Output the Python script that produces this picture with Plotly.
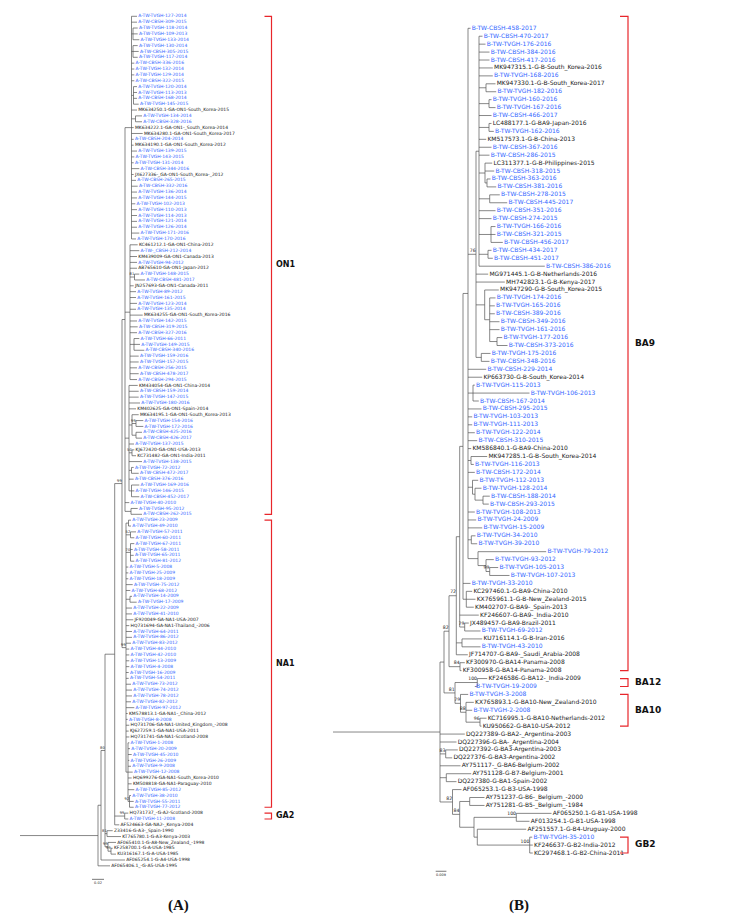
import plotly.graph_objects as go

# ------------------------------------------------------------------
# DATA  (Newick-like strings; number after ':' = node depth on the
#        distance axis, label after ')' = bootstrap)
# ------------------------------------------------------------------

# ---------------- Panel A : RSV-A G gene -------------------------
ON1_C1 = ("(A-TW-TVGH-127-2014:129,A-TW-CBSH-309-2015:129,"
          "(A-TW-TVGH-118-2014:129.7,A-TW-TVGH-109-2013:129.7,A-TW-TVGH-133-2014:131.3):125,"
          "(A-TW-TVGH-130-2014:129.7,A-TW-CBSH-305-2015:130.7,A-TW-TVGH-117-2014:129.7):125,"
          "A-TW-CBSH-336-2016:126.3,A-TW-TVGH-132-2014:126.3,A-TW-TVGH-129-2014:126.3,A-TW-CBSH-322-2015:126.3,"
          "(A-TW-TVGH-120-2014:129,A-TW-TVGH-113-2013:129,A-TW-CBSH-168-2014:129,A-TW-TVGH-145-2015:130.7):125.5,"
          "MK634250.1-GA-ON1-South_Korea-2015:129,"
          "(A-TW-TVGH-134-2014:134,A-TW-CBSH-328-2016:134):127.5,"
          "MK634222.1-GA-ON1-_South_Korea-2014:125.7,MK634280.1-GA-ON1-South_Korea-2017:134.7,"
          "A-TW-CBSH-204-2014:125.7,MK634190.1-GA-ON1-South_Korea-2012:125.7,A-TW-TVGH-139-2015:129,"
          "A-TW-TVGH-143-2015:126.3,A-TW-TVGH-131-2014:125.7,A-TW-CBSH-344-2016:131.3,"
          "JX627336-_GA-ON1-South_Korea-_2012:125.7,A-TW-CBSH-265-2015:128,A-TW-CBSH-332-2016:129.7,"
          "A-TW-TVGH-136-2014:129,A-TW-TVGH-144-2015:129,A-TW-TVGH-102-2013:127.3,A-TW-TVGH-110-2013:129,"
          "A-TW-TVGH-114-2013:129,A-TW-TVGH-121-2014:129,A-TW-TVGH-126-2014:129,A-TW-TVGH-171-2016:131.3,"
          "A-TW-TVGH-170-2016:128):123.5")

ON1_C2 = ("(KC461212.1-GA-ON1-China-2012:129.7,A-TW-_CBSH-212-2014:131.3,KM439009-GA-ON1-Canada-2013:129,"
          "A-TW-TVGH-94-2012:129,AB765610-GA-ON1-Japan-2012:129,"
          "(A-TW-TVGH-148-2015:131.3,A-TW-CBSH-481-2017:137)81:126.5,"
          "JN257693-GA-ON1-Canada-2011:125.7,A-TW-TVGH-89-2012:128,A-TW-TVGH-161-2015:128,"
          "A-TW-TVGH-123-2014:129,A-TW-TVGH-135-2014:128,MK634255-GA-ON1-South_Korea-2016:134.7,"
          "A-TW-TVGH-142-2015:129,A-TW-CBSH-319-2015:129.7,A-TW-CBSH-327-2016:129,"
          "(A-TW-TVGH-66-2011:131.3,A-TW-TVGH-149-2015:132,A-TW-CBSH-340-2016:136.3):126,"
          "A-TW-TVGH-159-2016:130.7,A-TW-TVGH-157-2015:130.7,A-TW-CBSH-256-2015:129,"
          "A-TW-CBSH-478-2017:130.7,A-TW-CBSH-294-2015:129):122")

ON1_C3 = ("(KM434054-GA-ON1-China-2014:129.7,A-TW-CBSH-159-2014:130.7,A-TW-TVGH-147-2015:130.7,"
          "A-TW-TVGH-180-2016:132,KM402625-GA-ON1-Spain-2014:128,"
          "(MK634195.1-GA-ON1-South_Korea-2013:130.7,"
          "(A-TW-TVGH-154-2016:135.3,A-TW-TVGH-172-2016:135.3)99:128,"
          "(A-TW-CBSH-425-2016:134,A-TW-CBSH-426-2017:134):128):124,"
          "A-TW-TVGH-137-2015:126,"
          "(KJ672420-GA-ON1-USA-2013:126.3,KC731482-GA-ON1-India-2011:128)50:124,"
          "A-TW-TVGH-138-2015:134,"
          "(A-TW-TVGH-72-2012:125.7,A-TW-CBSH-472-2017:130.7):123.5,"
          "A-TW-CBSH-376-2016:125.7,"
          "(A-TW-TVGH-169-2016:131.3,A-TW-TVGH-146-2015:126.3,A-TW-CBSH-452-2017:131.3):123.5):121")

ON1 = ("(" + ON1_C1 + "," + ON1_C2 + "," + ON1_C3 + ","
       "A-TW-TVGH-40-2010:121.3,(A-TW-TVGH-95-2012:129.7,A-TW-CBSH-262-2015:134):123):117")

NA1_B = ("(A-TW-TVGH-1-2008:121.3,A-TW-TVGH-20-2009:122,A-TW-TVGH-45-2010:123.7,A-TW-TVGH-26-2009:121.3,"
         "A-TW-TVGH-9-2008:123,A-TW-TVGH-12-2008:124.7,HQ699276-GA-NA1-South_Korea-2010:123.7,"
         "KM508818-GA-NA1-Paraguay-2010:123.7,A-TW-TVGH-85-2012:126.3,"
         "(A-TW-TVGH-38-2010:123,A-TW-TVGH-55-2011:125.7,A-TW-TVGH-77-2012:125.7)92:121.5):120")

NA1 = ("((A-TW-TVGH-23-2009:123,A-TW-TVGH-49-2010:123):120.5,"
       "(A-TW-TVGH-57-2011:128,A-TW-TVGH-60-2011:126.3)52:122.5,"
       "(A-TW-TVGH-67-2011:126.3,A-TW-TVGH-58-2011:124.7,A-TW-TVGH-65-2011:125.7,A-TW-TVGH-81-2012:126.3)70:122.5,"
       "A-TW-TVGH-5-2008:120.3,A-TW-TVGH-25-2009:120.3,A-TW-TVGH-18-2009:120.3,A-TW-TVGH-75-2012:124.7,"
       "A-TW-TVGH-68-2012:122.3,(A-TW-TVGH-14-2009:124,A-TW-TVGH-17-2009:128.7):122,"
       "A-TW-TVGH-22-2009:124,A-TW-TVGH-41-2010:124,JF920049-GA-NA1-USA-2007:125.3,"
       "HQ731694-GA-NA1-Thailand_-2006:121.3,A-TW-TVGH-64-2011:124,A-TW-TVGH-86-2012:124,"
       "A-TW-TVGH-83-2012:123,A-TW-TVGH-44-2010:121.3,A-TW-TVGH-42-2010:121.3,A-TW-TVGH-13-2009:121.3,"
       "A-TW-TVGH-4-2008:121.3,A-TW-TVGH-16-2009:120.7,A-TW-TVGH-54-2011:120.7,A-TW-TVGH-73-2012:123,"
       "A-TW-TVGH-74-2012:124,A-TW-TVGH-78-2012:124,A-TW-TVGH-82-2012:123,A-TW-TVGH-97-2012:126.3,"
       "KM578813.1-GA-NA1-_China-2012:119.7,A-TW-TVGH-8-2008:119.7,"
       "HQ731706-GA-NA1-United_Kingdom_-2008:121.3,KJ627259.1-GA-NA1-USA-2011:120.7,"
       "HQ731741-GA-NA1-Scotland-2008:121.3," + NA1_B + ")99:118")

GA2 = "(HQ731737_-G-A2-Scotland-2008:120.3,A-TW-TVGH-11-2008:120.3)99:116.7"

TREE_A = ("(((((" + ON1 + "," + NA1 + ")99:114," + GA2 + ",AF524663-GA-NA2-_Kenya-2004:111.3):106.7,"
          "(Z33416-G-A3-_Spain-1990:104.7,KT765780.1-G-A3-Kenya-2003:113)81:99,"
          "(AF065410.1-G-A8-New_Zealand_-1998:108,"
          "(KF258700.1-G-A-USA-1985:104.7,KU316167.1-G-A-USA-1985:108)99:103)99:100)80:97,"
          "AF065254.1-G-A4-USA-1998:117):93,"
          "AF065406.1_-G-A5-USA-1995:102):90,"
          "AF065257-G-A1-USA-1998:169.7):89")
ROOT_STEM_A = 12

CLADE_NAMES_A = ["ON1", "NA1", "GA2"]
CLADE_FIRST_A = [0, 86, 136]      # bracket extents, in leaf rows
CLADE_LAST_A = [85, 135, 137]

SCALE_LABEL_A = "0.02"
SCALE_LEN_A = 12

# ---------------- Panel B : RSV-B G gene -------------------------
TOPCOMB_B = ("(B-TW-CBSH-470-2017:474.5,B-TW-TVGH-176-2016:477.5,B-TW-CBSH-384-2016:481.5,"
             "B-TW-CBSH-417-2016:481.5,MK947315.1-G-B-South_Korea-2016:484.8,B-TW-TVGH-168-2016:484.8,"
             "(MK947330.1-G-B-South_Korea-2017:487.5,B-TW-TVGH-182-2016:488.2):478,"
             "(B-TW-TVGH-160-2016:483.5,B-TW-TVGH-167-2016:487.5):481,B-TW-CBSH-466-2017:483.5,"
             "(LC488177.1-G-BA9-Japan-2016:483.5,B-TW-TVGH-162-2016:485.8):481,"
             "KM517573.1-G-B-China-2013:478.2,B-TW-CBSH-367-2016:483.5,B-TW-CBSH-286-2015:481.5,"
             "(LC311377.1-G-B-Philippines-2015:484.2,B-TW-CBSH-318-2015:486.2,"
             "(B-TW-CBSH-363-2016:482.5,B-TW-CBSH-381-2016:488.2):479):477,"
             "(B-TW-CBSH-278-2015:491.8,B-TW-CBSH-445-2017:499.2):481.7,"
             "B-TW-CBSH-351-2016:487.5,B-TW-CBSH-274-2015:483.5,"
             "(B-TW-TVGH-166-2016:487.5,B-TW-CBSH-321-2015:487.5,B-TW-CBSH-456-2017:494.8):483,"
             "(B-TW-CBSH-434-2017:483.5,B-TW-CBSH-451-2017:484.8):480,"
             "B-TW-CBSH-386-2016:536.8):471")

A76_B = ("(" + TOPCOMB_B + ",MG971445.1-G-B-Netherlands-2016:480.2,MH742823.1-G-B-Kenya-2017:496.8,"
         "(MK947290-G-B-South_Korea-2015:490.8,"
         "(B-TW-TVGH-174-2016:487.5,B-TW-TVGH-165-2016:486.8,B-TW-CBSH-389-2016:486.8,"
         "B-TW-CBSH-349-2016:491.5,B-TW-TVGH-161-2016:491.5,"
         "(B-TW-TVGH-177-2016:494.2,B-TW-CBSH-373-2016:499.5):489):481.7):476.7,"
         "(B-TW-TVGH-175-2016:482.5,B-TW-CBSH-348-2016:481.5):473.3)76:468")

T_B = ("(B-TW-CBSH-458-2017:462.5," + A76_B + ",B-TW-CBSH-229-2014:478.2,"
       "KP663730-G-B-South_Korea-2014:474.2,"
       "(B-TW-TVGH-115-2013:466.8,B-TW-TVGH-106-2013:521.5,B-TW-CBSH-167-2014:470.8):465,"
       "B-TW-CBSH-295-2015:473.5,B-TW-TVGH-103-2013:464.2,B-TW-TVGH-111-2013:464.2,"
       "B-TW-TVGH-122-2014:466.8,B-TW-CBSH-310-2015:469.2,KM586840.1-G-BA9-China-2010:463.2,"
       "(MK947285.1-G-B-South_Korea-2014:479.2,B-TW-TVGH-116-2013:465.8):463,"
       "B-TW-CBSH-172-2014:466.8,"
       "(B-TW-TVGH-112-2013:470.2,(B-TW-TVGH-128-2014:473.5,"
       "(B-TW-CBSH-188-2014:481.8,B-TW-CBSH-293-2015:480.8):475):467):464.5,"
       "B-TW-TVGH-108-2013:466.8,B-TW-TVGH-24-2009:468.2,B-TW-TVGH-15-2009:474.2,"
       "(B-TW-TVGH-34-2010:467.5,B-TW-TVGH-39-2010:469.2):463.3,"
       "(B-TW-TVGH-79-2012:538.2,(B-TW-TVGH-93-2012:485.8,"
       "(B-TW-TVGH-105-2013:490.2,B-TW-TVGH-107-2013:501.5)99:481.7):478):470):460")

BA9_B = ("((((" + T_B + ",B-TW-TVGH-33-2010:462.5,"
         "(KC297460.1-G-BA9-China-2010:464.2,KX765961.1-G-B-New_Zealand-2015:467.5,"
         "KM402707-G-BA9-_Spain-2013:465.8):458.3):455,"
         "KF246607-G-BA9-_India-2010:470.8,"
         "(JX489457-G-BA9-Brazil-2011:460.8,B-TW-TVGH-69-2012:472.5)79:456.7):451.7,"
         "(KU716114.1-G-B-Iran-2016:474.2,B-TW-TVGH-43-2010:472.5):454,"
         "JF714707-G-BA9-_Saudi_Arabia-2008:459.8)72:448.3,"
         "(KF300970-G-BA14-Panama-2008:456.8,KF300958-G-BA14-Panama-2008:453.5)84:452)82:441")

BA12_10_B = ("((KF246586-G-BA12-_India-2009:479.2,B-TW-TVGH-19-2009:466.8)100:469.3,"
             "(B-TW-TVGH-3-2008:460.2,(KX765893.1-G-BA10-New_Zealand-2010:465.8,B-TW-TVGH-2-2008:464.2,"
             "(KC716995.1-G-BA10-Netherlands-2012:478.5,KU950662-G-BA10-USA-2012:473.5)96:472)88:458)79:452.5)81:447")

TREE_B = ("((" + BA9_B + "," + BA12_10_B + "):436,"
          "DQ227389-G-BA2-_Argentina-2003:456.8,DQ227396-G-BA-_Argentina-2004:448.5,"
          "(DQ227392-G-BA3-Argentina-2003:449.8,DQ227376-G-BA3-Argentina-2002:444.2)83:437.7,"
          "AY751117-_G-BA6-Belgium-2002:452.5,"
          "(AY751128-G-B7-Belgium-2001:463.2,DQ227380-G-BA1-Spain-2002:448.5):438.3,"
          "(AF065253.1-G-B3-USA-1998:453.5,"
          "((AY751237-G-B6-_Belgium_-2000:476.5,AY751281-G-B5-_Belgium_-1984:476.5):461.7,"
          "((AF065250.1-G-B1-USA-1998:543.5,AF013254.1-G-B1-USA-1998:521.5)100:508.3,"
          "(AF251557.1-G-B4-Uruguay-2000:518.2,"
          "(B-TW-TVGH-35-2010:524.2,KF246637-G-B2-India-2012:524.8,KC297468.1-G-B2-China-2011:524.8)100:521.7"
          "):469.3):466)84:451.7)82:444.5):432")
ROOT_STEM_B = 325

CLADE_NAMES_B = ["BA9", "BA12", "BA10", "GB2"]
CLADE_FIRST_B = [-1.5, 82, 84, 102]   # bracket extents, in leaf rows
CLADE_LAST_B = [81, 83, 88, 104]

SCALE_LABEL_B = "0.009"
SCALE_LEN_B = 10.7

# ------------------------------------------------------------------
# helpers
# ------------------------------------------------------------------
def parse_newick(s):
    s = "".join(s.split())
    pos = 0

    def node():
        nonlocal pos
        children = []
        if s[pos] == "(":
            pos += 1
            while True:
                children.append(node())
                if s[pos] == ",":
                    pos += 1
                    continue
                if s[pos] == ")":
                    pos += 1
                    break
        start = pos
        while pos < len(s) and s[pos] not in ":,();":
            pos += 1
        label = s[start:pos]
        depth = 0.0
        if pos < len(s) and s[pos] == ":":
            pos += 1
            start = pos
            while pos < len(s) and s[pos] not in ",();":
                pos += 1
            depth = float(s[start:pos])
        return {"label": label, "depth": depth, "children": children}

    return node()


def layout(root):
    leaves, internals = [], []

    def walk(n):
        if not n["children"]:
            n["y"] = len(leaves)
            leaves.append(n)
        else:
            for c in n["children"]:
                walk(c)
            n["y"] = (n["children"][0]["y"] + n["children"][-1]["y"]) / 2
            internals.append(n)

    walk(root)
    return leaves, internals


def branch_lines(root, stem_start):
    xs = [stem_start, root["depth"], None]
    ys = [root["y"], root["y"], None]
    stack = [root]
    while stack:
        n = stack.pop()
        if n["children"]:
            xs += [n["depth"], n["depth"], None]
            ys += [n["children"][0]["y"], n["children"][-1]["y"], None]
            for c in n["children"]:
                xs += [n["depth"], c["depth"], None]
                ys += [c["y"], c["y"], None]
                stack.append(c)
    return xs, ys


BLUE = "#3366ff"
BLACK = "#1a1a1a"
RED = "#e8262b"
LINE = "#555555"
FONT = "DejaVu Sans"

W, H = 731, 924
# leaf pixel placement (row of first leaf, row pitch)
A_Y0, A_DY = 8.3, 5.859
B_Y0, B_DY = 20.3, 7.93

fig = go.Figure()


def add_tree(tree_str, stem, yaxis, fsize, bsize, clade_names, cfirst, clast,
             bx, tick, label_x, csize, scale_label, scale_len, scale_x0):
    root = parse_newick(tree_str)
    leaves, internals = layout(root)
    xs, ys = branch_lines(root, stem)
    fig.add_trace(go.Scatter(x=xs, y=ys, mode="lines", yaxis=yaxis,
                             line=dict(color=LINE, width=0.7), hoverinfo="skip"))
    names = [l["label"] for l in leaves]
    colors = [BLUE if ("-TW-" in n) else BLACK for n in names]
    fig.add_trace(go.Scatter(
        x=[l["depth"] + 1.2 for l in leaves], y=[l["y"] for l in leaves],
        mode="text", text=names, textposition="middle right", yaxis=yaxis,
        textfont=dict(size=fsize, color=colors, family=FONT), hoverinfo="skip"))
    bs = [n for n in internals if n["label"]]
    fig.add_trace(go.Scatter(
        x=[n["depth"] - 0.3 for n in bs], y=[n["y"] - 0.15 for n in bs],
        mode="text", text=[n["label"] for n in bs], textposition="top left", yaxis=yaxis,
        textfont=dict(size=bsize, color=BLACK, family=FONT), hoverinfo="skip"))
    # clade brackets
    for name, a, b in zip(clade_names, cfirst, clast):
        fig.add_trace(go.Scatter(
            x=[bx - tick, bx, bx, bx - tick], y=[a, a, b, b], mode="lines", yaxis=yaxis,
            line=dict(color=RED, width=1.2), hoverinfo="skip"))
        fig.add_trace(go.Scatter(
            x=[label_x], y=[(a + b) / 2], mode="text", text=[f"<b>{name}</b>"],
            textposition="middle right", yaxis=yaxis,
            textfont=dict(size=csize, color="#111111", family=FONT), hoverinfo="skip"))
    # scale bar
    n = len(leaves) - 1
    fig.add_trace(go.Scatter(x=[scale_x0, scale_x0 + scale_len], y=[n + 2.3, n + 2.3],
                             mode="lines", yaxis=yaxis,
                             line=dict(color=LINE, width=0.8), hoverinfo="skip"))
    fig.add_trace(go.Scatter(x=[scale_x0 + scale_len / 2], y=[n + 2.6], mode="text",
                             text=[scale_label], textposition="bottom center", yaxis=yaxis,
                             textfont=dict(size=3.5, color=BLACK, family=FONT), hoverinfo="skip"))


add_tree(TREE_A, ROOT_STEM_A, "y", 4.5, 3.6, CLADE_NAMES_A, CLADE_FIRST_A, CLADE_LAST_A,
         263.5, 7, 268, 8, SCALE_LABEL_A, SCALE_LEN_A, 84)
add_tree(TREE_B, ROOT_STEM_B, "y2", 6, 4.6, CLADE_NAMES_B, CLADE_FIRST_B, CLADE_LAST_B,
         620, 8, 627, 9, SCALE_LABEL_B, SCALE_LEN_B, 427.7)

fig.add_annotation(x=158 / W, y=1 - 908 / H, xref="paper", yref="paper", text="<b>(A)</b>",
                   showarrow=False, font=dict(size=15, family="Liberation Serif", color="#111"))
fig.add_annotation(x=523 / W, y=1 - 908 / H, xref="paper", yref="paper", text="<b>(B)</b>",
                   showarrow=False, font=dict(size=15, family="Liberation Serif", color="#111"))

fig.update_layout(
    width=W, height=H, margin=dict(l=0, r=0, t=0, b=0),
    paper_bgcolor="white", plot_bgcolor="white", showlegend=False,
    xaxis=dict(range=[0, W], visible=False, fixedrange=True),
    yaxis=dict(range=[(H - A_Y0) / A_DY, -A_Y0 / A_DY], visible=False, fixedrange=True),
    yaxis2=dict(range=[(H - B_Y0) / B_DY, -B_Y0 / B_DY], visible=False, overlaying="y",
                fixedrange=True),
)

fig.write_html("out.html")
